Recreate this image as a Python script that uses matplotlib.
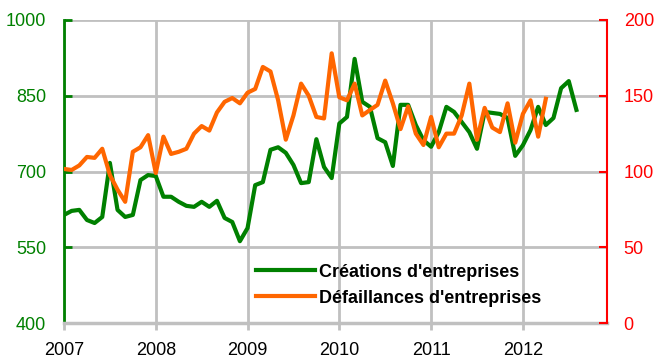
import numpy as np
import matplotlib.pyplot as plt
from matplotlib.lines import Line2D

plt.rcParams['font.family'] = ['Liberation Sans', 'DejaVu Sans']

# Données mensuelles, janvier 2007 -> août 2012 (créations) / avril 2012 (défaillances)
years = ['2007', '2008', '2009', '2010', '2011', '2012']
creations = [614, 622, 624, 604, 598, 610, 717, 624, 610, 614, 683, 693,
             691, 650, 650, 640, 632, 630, 640, 630, 642, 608, 600, 562,
             588, 673, 679, 743, 748, 737, 713, 677, 679, 764, 709, 687,
             795, 808, 923, 838, 828, 766, 758, 711, 832, 832, 792, 762,
             749, 778, 828, 818, 798, 778, 745, 818, 816, 814, 806, 731,
             752, 782, 828, 792, 806, 865, 879, 822]
defaillances = [101.7, 101, 104, 109.6, 109, 115, 97.7, 88, 80, 113, 116, 124,
                99, 123, 111.6, 113, 115, 125, 130, 127, 139, 146, 148.5, 145,
                152, 154.5, 169, 166, 147, 121, 137, 158, 150, 136, 135, 178,
                149, 147, 158, 137, 140.6, 144, 160, 145, 128, 143, 125, 117.5,
                136, 116, 125, 125, 137, 158, 121, 142, 129, 126, 145, 119,
                138, 147, 123, 148]

green = '#008000'
orange = '#FF6600'
red = '#FF0000'
grey = '#C0C0C0'

fig = plt.figure(figsize=(6.55, 3.6), dpi=100)
ax = fig.add_axes([64 / 655, 37 / 360, 543 / 655, 303 / 360])
ax2 = ax.twinx()

ax.plot(np.arange(len(creations)), creations, color=green, lw=3, zorder=3)
ax2.plot(np.arange(len(defaillances)), defaillances, color=orange, lw=3, zorder=3)

ax.set_xlim(0, 71)
ax.set_ylim(400, 1000)
ax2.set_ylim(0, 200)

ax.set_xticks(np.arange(len(years)) * 12)
ax.set_xticklabels(years)
ax.set_yticks([400, 550, 700, 850, 1000])
ax2.set_yticks([0, 50, 100, 150, 200])

ax.grid(True, color=grey, lw=2)
ax.set_axisbelow(True)

for a in (ax, ax2):
    a.spines['top'].set_visible(False)
ax.spines['right'].set_visible(False)
ax2.spines['left'].set_visible(False)
ax2.spines['bottom'].set_visible(False)
ax.spines['left'].set_color(green)
ax.spines['left'].set_linewidth(2)
ax.spines['bottom'].set_color(grey)
ax.spines['bottom'].set_linewidth(2.5)
ax2.spines['right'].set_color(red)
ax2.spines['right'].set_linewidth(1.5)

ax.tick_params(axis='y', direction='in', length=6, width=2, color=green,
               labelcolor=green, labelsize=13, pad=13)
ax.tick_params(axis='x', direction='out', length=5, width=2, color=grey,
               labelcolor='black', labelsize=13, pad=9)
ax2.tick_params(axis='y', direction='in', length=6, width=1.5, color=red,
                labelcolor=red, labelsize=13, pad=12)

handles = [Line2D([], [], color=green, lw=3), Line2D([], [], color=orange, lw=3)]
labels = ["Créations d'entreprises", "Défaillances d'entreprises"]
leg = ax2.legend(handles, labels, loc='lower left', bbox_to_anchor=(0.323, 0.0),
                 frameon=False, handlelength=3.3, handletextpad=0.2,
                 labelspacing=0.5, prop={'weight': 'bold', 'size': 13})

fig.savefig('out.png', dpi=100)
